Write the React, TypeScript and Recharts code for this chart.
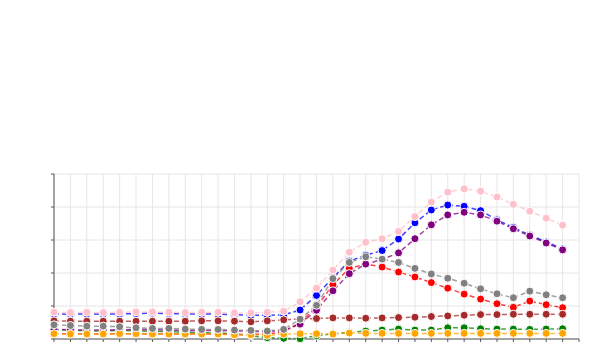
import { LineChart, Line, XAxis, YAxis, CartesianGrid } from 'recharts';

const steps = [0, 1, 2, 3, 4, 5, 6, 7, 8, 9, 10, 11, 12, 13, 14, 15, 16, 17, 18, 19, 20, 21, 22, 23, 24, 25, 26, 27, 28, 29, 30, 31];
const xTicks = [0, 1, 2, 3, 4, 5, 6, 7, 8, 9, 10, 11, 12, 13, 14, 15, 16, 17, 18, 19, 20, 21, 22, 23, 24, 25, 26, 27, 28, 29, 30, 31, 32];
const yTicks = [0, 10, 20, 30, 40, 50];

const pink = [8.1, 8.0, 8.1, 8.0, 8.1, 8.2, 8.2, 8.1, 8.0, 8.1, 8.1, 7.9, 7.9, 8.1, 8.4, 11.3, 15.4, 20.9, 26.3, 29.3, 30.4, 32.6, 37.1, 41.5, 44.5, 45.5, 44.8, 43.0, 40.8, 38.7, 36.6, 34.5];
const blue = [7.6, 7.5, 7.6, 7.5, 7.6, 7.7, 7.8, 7.7, 7.6, 7.6, 7.5, 7.4, 7.2, 7.2, 7.3, 8.8, 13.2, 18.6, 23.6, 25.4, 26.8, 30.3, 35.2, 39.1, 40.6, 40.2, 38.9, 36.1, 33.8, 31.5, 29.4, 27.3];
const purple = [2.9, 2.8, 2.7, 2.7, 2.8, 2.9, 2.8, 2.7, 2.6, 2.6, 2.5, 2.5, 2.3, 2.3, 2.6, 4.5, 8.7, 14.6, 19.8, 22.7, 24.1, 26.1, 30.4, 34.6, 37.6, 38.4, 37.6, 35.7, 33.4, 31.2, 29.1, 27.0];
const gray = [4.3, 4.1, 3.9, 3.9, 3.7, 3.4, 3.2, 3.2, 3.0, 2.9, 2.9, 2.7, 2.6, 2.4, 2.9, 6.0, 10.2, 18.3, 23.2, 24.9, 24.2, 23.2, 21.4, 19.7, 18.4, 16.9, 15.2, 13.7, 12.5, 14.5, 13.4, 12.5];
const red = [1.6, 1.6, 1.5, 1.6, 1.6, 1.6, 1.5, 1.5, 1.5, 1.6, 1.5, 1.4, 1.4, 1.5, 2.2, 5.0, 9.6, 16.5, 21.4, 22.7, 21.8, 20.3, 18.8, 17.1, 15.4, 13.6, 12.1, 10.7, 9.6, 11.5, 10.4, 9.5];
const brown = [5.5, 5.4, 5.4, 5.4, 5.4, 5.4, 5.4, 5.4, 5.4, 5.5, 5.5, 5.4, 5.2, 5.5, 5.8, 6.1, 6.2, 6.4, 6.4, 6.3, 6.4, 6.5, 6.6, 6.8, 7.0, 7.2, 7.4, 7.4, 7.5, 7.5, 7.5, 7.5];
const green = [2.8, 2.7, 2.5, 2.4, 2.6, 2.5, 2.3, 2.2, 2.1, 1.9, 1.8, 1.6, 1.0, 0.4, 0.2, 0.1, 1.0, 1.6, 2.0, 2.4, 2.7, 3.0, 2.7, 2.7, 3.4, 3.4, 3.1, 3.0, 3.0, 2.9, 3.0, 3.1];
const orange = [1.6, 1.5, 1.5, 1.5, 1.6, 1.6, 1.5, 1.5, 1.5, 1.5, 1.5, 1.3, 1.3, 1.1, 1.5, 1.6, 1.6, 1.5, 1.8, 1.7, 1.7, 1.7, 1.7, 1.7, 1.7, 1.7, 1.7, 1.7, 1.7, 1.7, 1.7, 1.7];

// drawing order: later series sit on top
const SERIES = [
  { key: 'green', color: 'green', values: green },
  { key: 'red', color: 'red', values: red },
  { key: 'blue', color: 'blue', values: blue },
  { key: 'purple', color: 'purple', values: purple },
  { key: 'brown', color: 'brown', values: brown },
  { key: 'orange', color: 'orange', values: orange },
  { key: 'gray', color: 'gray', values: gray },
  { key: 'pink', color: 'pink', values: pink },
];

const data = steps.map((x, i) => {
  const row: Record<string, number> = { x };
  SERIES.forEach((s) => {
    row[s.key] = s.values[i];
  });
  return row;
});

const noLabel = () => '';
const AXIS = '#555';

export default function App() {
  return (
    <LineChart
      width={584}
      height={344}
      data={data}
      margin={{ top: 166, right: 13, bottom: 12, left: 45 }}
    >
      <CartesianGrid stroke="#e6e6e6" />
      <XAxis
        dataKey="x"
        type="number"
        domain={[0, 32]}
        ticks={xTicks}
        interval={0}
        height={1}
        tickSize={3}
        tickFormatter={noLabel}
        axisLine={{ stroke: AXIS }}
        tickLine={{ stroke: AXIS }}
      />
      <YAxis
        type="number"
        domain={[0, 50]}
        ticks={yTicks}
        interval={0}
        width={1}
        tickSize={3}
        tickFormatter={noLabel}
        axisLine={{ stroke: AXIS }}
        tickLine={{ stroke: AXIS }}
      />
      {SERIES.map((s) => (
        <Line
          key={s.key}
          dataKey={s.key}
          stroke={s.color}
          strokeWidth={1.5}
          strokeOpacity={0.75}
          strokeDasharray="5 3"
          isAnimationActive={false}
          dot={{
            r: 4,
            fill: s.color,
            stroke: '#fff',
            strokeWidth: 1,
            strokeOpacity: 1,
            strokeDasharray: 'none',
          }}
          activeDot={false}
        />
      ))}
    </LineChart>
  );
}
